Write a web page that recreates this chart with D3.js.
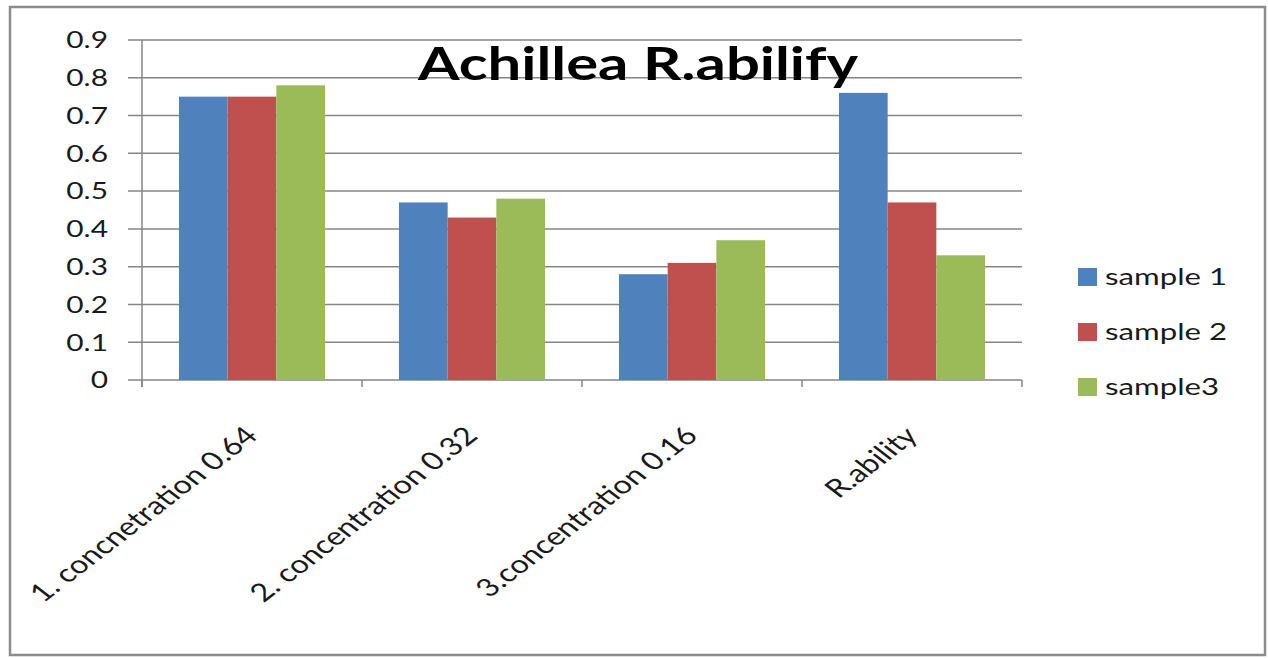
<!DOCTYPE html>
<html>
<head>
<meta charset="utf-8">
<script src="https://cdn.jsdelivr.net/npm/d3@7"></script>
<style>
  body { margin: 0; background: #fff; }
  text { font-family: Lato, "Open Sans", sans-serif; fill: #1a1a1a; }
</style>
</head>
<body>
<svg id="chart" width="1268" height="658"></svg>
<script>
// data
var categories = ['1. concnetration 0.64', '2. concentration 0.32', '3.concentration 0.16', 'R.ability'];
var seriesNames = ['sample 1', 'sample 2', 'sample3'];
var sample1 = [0.75, 0.47, 0.28, 0.76];
var sample2 = [0.75, 0.43, 0.31, 0.47];
var sample3 = [0.78, 0.48, 0.37, 0.33];
var yTicks = [0, 0.1, 0.2, 0.3, 0.4, 0.5, 0.6, 0.7, 0.8, 0.9];
var chartTitle = 'Achillea R.abilify';

var colors = ['#4f81bd', '#c0504d', '#9bbb59'];
var values = [sample1, sample2, sample3];

// the source picture is stretched sideways, so text is too
var SX = 1.3;

var svg = d3.select('#chart');
var plot = {left: 142, right: 1022, top: 40, bottom: 380};

svg.append('rect')
  .attr('x', 10).attr('y', 7)
  .attr('width', 1255).attr('height', 648)
  .attr('fill', '#fff')
  .attr('stroke', '#8c8c8c')
  .attr('stroke-width', 2.5);

var y = d3.scaleLinear().domain([0, 0.9]).range([plot.bottom, plot.top]);

var x0 = d3.scaleBand()
  .domain(categories)
  .range([plot.left, plot.right])
  .paddingInner(0.336)
  .paddingOuter(0.168);

var x1 = d3.scaleBand()
  .domain(seriesNames)
  .range([0, x0.bandwidth()]);

// gridlines + y tick marks
svg.append('g')
  .selectAll('line')
  .data(yTicks)
  .enter()
  .append('line')
  .attr('x1', plot.left - 14)
  .attr('x2', plot.right)
  .attr('y1', function(d) { return y(d); })
  .attr('y2', function(d) { return y(d); })
  .attr('stroke', '#868686')
  .attr('stroke-width', 1.5);

// y axis line
svg.append('line')
  .attr('x1', plot.left).attr('x2', plot.left)
  .attr('y1', y(0.9)).attr('y2', y(0) + 7)
  .attr('stroke', '#868686')
  .attr('stroke-width', 1.5);

// y labels
svg.append('g')
  .selectAll('text')
  .data(yTicks)
  .enter()
  .append('text')
  .attr('transform', function(d) {
    return 'translate(108,' + y(d) + ') scale(' + SX + ',1)';
  })
  .attr('dy', '0.36em')
  .attr('text-anchor', 'end')
  .style('font-size', '23px')
  .text(function(d) { return d === 0 ? '0' : d3.format('.1f')(d); });

// bars
var groups = svg.append('g')
  .selectAll('g')
  .data(categories)
  .enter()
  .append('g')
  .attr('transform', function(d) { return 'translate(' + x0(d) + ',0)'; });

groups.selectAll('rect')
  .data(function(d, i) {
    return seriesNames.map(function(s, j) {
      return {series: s, value: values[j][i], color: colors[j]};
    });
  })
  .enter()
  .append('rect')
  .attr('x', function(d) { return x1(d.series); })
  .attr('width', x1.bandwidth())
  .attr('y', function(d) { return y(d.value); })
  .attr('height', function(d) { return y(0) - y(d.value); })
  .attr('fill', function(d) { return d.color; });

// category tick marks sit between the groups
var step = x0.step();
var edges = d3.range(categories.length + 1).map(function(i) {
  return plot.left + i * step;
});
svg.append('g')
  .selectAll('line')
  .data(edges)
  .enter()
  .append('line')
  .attr('x1', function(d) { return d; })
  .attr('x2', function(d) { return d; })
  .attr('y1', y(0))
  .attr('y2', y(0) + 7)
  .attr('stroke', '#868686')
  .attr('stroke-width', 1.5);

// x labels, rotated
svg.append('g')
  .selectAll('text')
  .data(categories)
  .enter()
  .append('text')
  .attr('transform', function(d) {
    var cx = x0(d) + x0.bandwidth() / 2 - 10;
    return 'translate(' + cx + ',424) scale(' + SX + ',1) rotate(-45)';
  })
  .attr('dy', '0.75em')
  .attr('text-anchor', 'end')
  .style('font-size', '25px')
  .text(function(d) { return d; });

// title
svg.append('text')
  .attr('transform', 'translate(638,80) scale(' + SX + ',1)')
  .attr('text-anchor', 'middle')
  .style('font-size', '46px')
  .style('font-weight', 700)
  .style('fill', '#000')
  .text(chartTitle);

// legend
var legend = svg.append('g')
  .selectAll('g')
  .data(seriesNames)
  .enter()
  .append('g')
  .attr('transform', function(d, i) { return 'translate(1078,' + (285 + i * 55) + ')'; });

legend.append('rect')
  .attr('x', 0).attr('y', -17)
  .attr('width', 19).attr('height', 18)
  .attr('fill', function(d, i) { return colors[i]; });

legend.append('text')
  .attr('transform', 'translate(27,0) scale(' + SX + ',1)')
  .style('font-size', '24px')
  .text(function(d) { return d; });
</script>
</body>
</html>
